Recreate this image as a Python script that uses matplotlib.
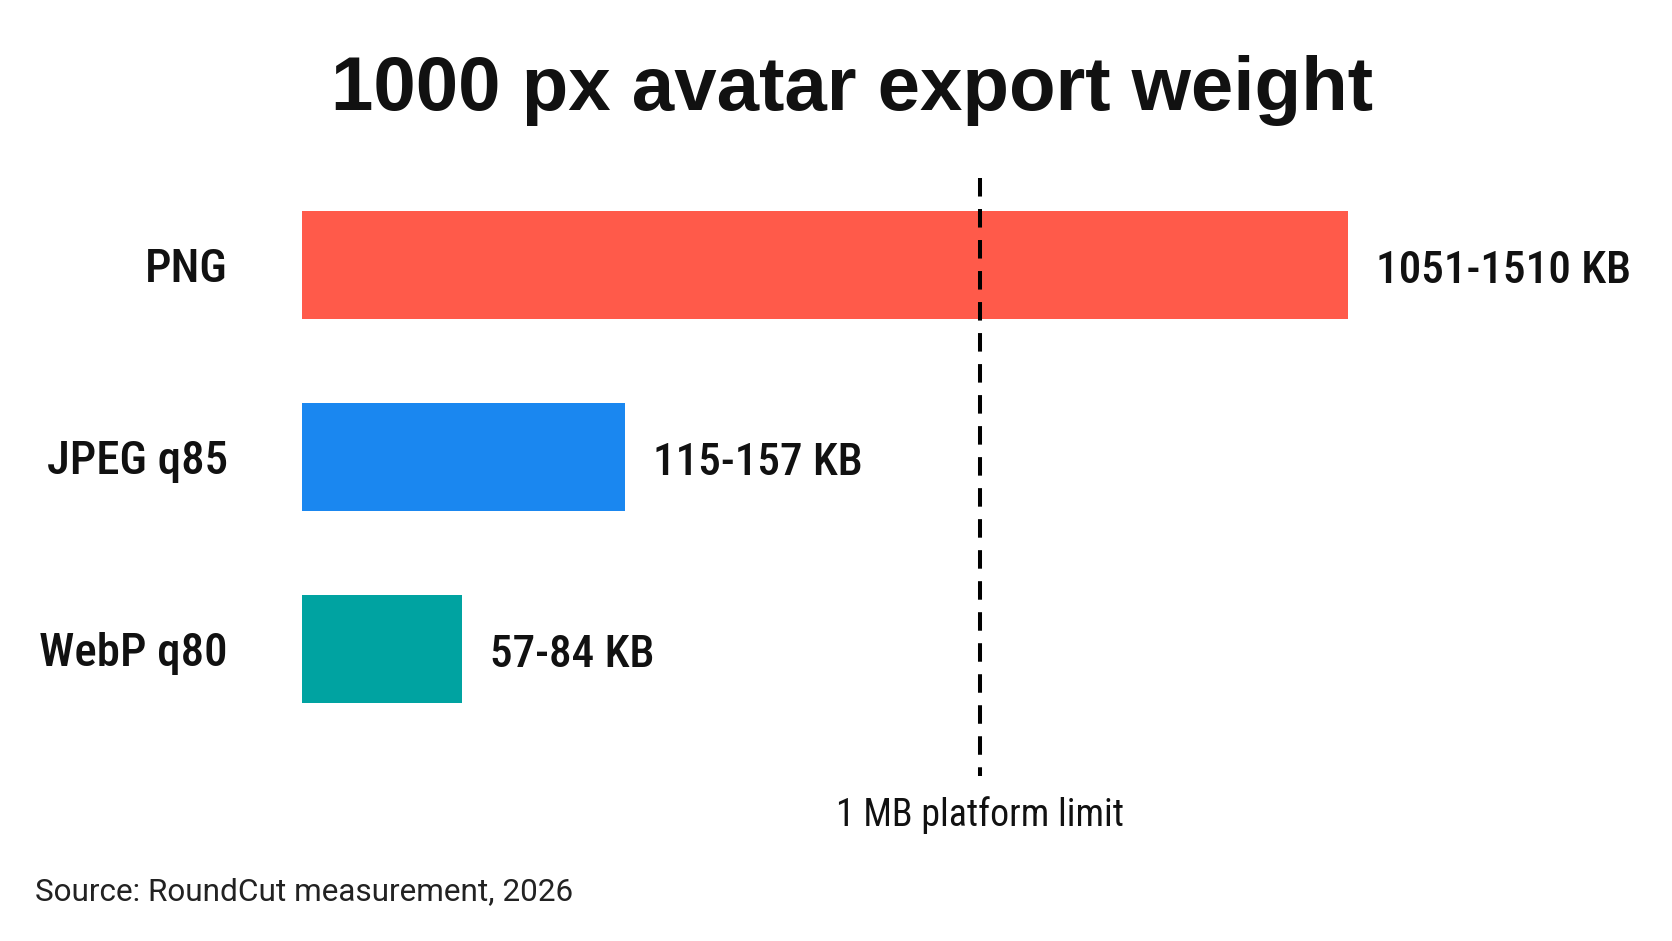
import matplotlib
matplotlib.use("Agg")
import matplotlib.pyplot as plt
from matplotlib import font_manager as fm

# ---------------- data ----------------
categories = ["PNG", "JPEG q85", "WebP q80"]
bar_length_kb = [1542, 477, 236]          # bar lengths (1 MB line = 1000)
range_labels = ["1051-1510 KB", "115-157 KB", "57-84 KB"]
limit_kb = 1000
limit_label = "1 MB platform limit"
bar_colors = ["#FF5A4A", "#1A87F0", "#00A3A1"]
title = "1000 px avatar export weight"
source = "Source: RoundCut measurement, 2026"

# ---------------- fonts ----------------
available = {f.name for f in fm.fontManager.ttflist}


def pick(*names):
    for n in names:
        if n in available:
            return n
    return "DejaVu Sans"


title_font = pick("Liberation Sans", "Roboto", "DejaVu Sans")
label_font = pick("Roboto Condensed", "Liberation Sans Narrow", "Roboto", "DejaVu Sans")
source_font = pick("Roboto", "Inter", "DejaVu Sans")

W, H, DPI = 1672, 941, 100
fig = plt.figure(figsize=(W / DPI, H / DPI), dpi=DPI, facecolor="white")
renderer = fig.canvas.get_renderer()


def fitted_size(s, target_px, **kw):
    t = fig.text(0, 0, s, fontsize=40, **kw)
    w = t.get_window_extent(renderer).width
    t.remove()
    return 40 * target_px / w


title_size = fitted_size(title, 1041, family=title_font, weight="bold")
cat_size = fitted_size("JPEG q85", 181, family=label_font, weight="medium")
val_size = fitted_size("115-157 KB", 210, family=label_font, weight="medium")
lim_size = fitted_size(limit_label, 288, family=label_font, weight="normal")
src_size = fitted_size(source, 538, family=source_font)

# ---------------- axes ----------------
ax_left, ax_right, ax_top, ax_bottom = 301.7, 1650, 178, 776
ax = fig.add_axes([ax_left / W, 1 - ax_bottom / H,
                   (ax_right - ax_left) / W, (ax_bottom - ax_top) / H])
ax.set_xlim(0, (ax_right - ax_left) / 0.6783)
ax.set_ylim(2.661, -0.453)
ax.axis("off")

ypos = list(range(len(categories)))
ax.barh(ypos, bar_length_kb, height=0.566, color=bar_colors, zorder=2)

# dashed 1 MB limit line (drawn from top to bottom)
ax.plot([limit_kb, limit_kb], [1, 0], transform=ax.get_xaxis_transform(),
        color="black", lw=2.9, linestyle=(0, (4.6, 3.1)), clip_on=False, zorder=3)
ax.annotate(limit_label, xy=(limit_kb, 0), xycoords=ax.get_xaxis_transform(),
            xytext=(0, -50 * 0.72), textcoords="offset points",
            ha="center", va="baseline", fontsize=lim_size,
            family=label_font, weight="normal", color="#111111")

for y, cat, val, lab in zip(ypos, categories, bar_length_kb, range_labels):
    ax.annotate(cat, xy=(0, y), xytext=(-74 * 0.72, -17 * 0.72),
                textcoords="offset points", ha="right", va="baseline",
                fontsize=cat_size, family=label_font, weight="medium",
                color="#111111", annotation_clip=False)
    ax.annotate(lab, xy=(val, y), xytext=(28 * 0.72, -18 * 0.72),
                textcoords="offset points", ha="left", va="baseline",
                fontsize=val_size, family=label_font, weight="medium",
                color="#111111", annotation_clip=False)

fig.text(851.5 / W, 1 - 110 / H, title, ha="center", va="baseline",
         fontsize=title_size, family=title_font, weight="bold", color="#111111")
fig.text(35 / W, 1 - 900 / H, source, ha="left", va="baseline",
         fontsize=src_size, family=source_font, color="#222222")

fig.savefig("out.png", dpi=DPI, facecolor="white")
